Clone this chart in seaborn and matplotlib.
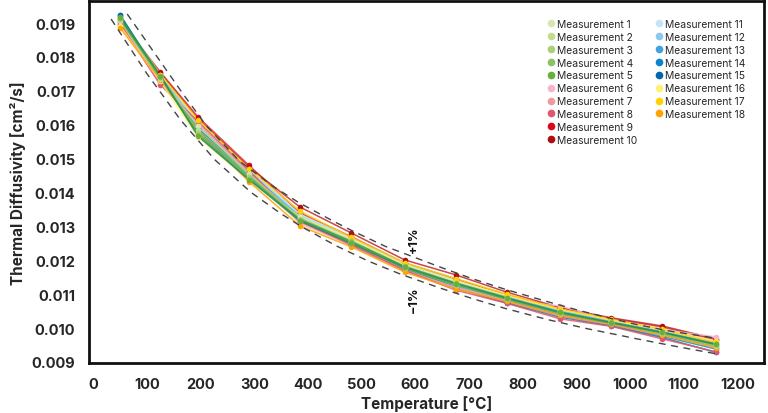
import numpy as np
import pandas as pd
import matplotlib
matplotlib.use("Agg")
import matplotlib.pyplot as plt
from matplotlib.lines import Line2D
from matplotlib.ticker import MultipleLocator, FormatStrFormatter
import seaborn as sns

# ---------------- data ----------------
temperature = [50, 125, 195, 290, 385, 480, 580, 675, 770, 870, 965, 1060, 1160]

m01 = [0.01905, 0.01738, 0.01595, 0.01455, 0.01325, 0.01258, 0.01180, 0.01130, 0.01088, 0.01045, 0.01016, 0.00985, 0.00950]
m02 = [0.01908, 0.01735, 0.01585, 0.01450, 0.01322, 0.01255, 0.01178, 0.01128, 0.01086, 0.01043, 0.01015, 0.00984, 0.00948]
m03 = [0.01912, 0.01740, 0.01575, 0.01445, 0.01318, 0.01252, 0.01176, 0.01126, 0.01085, 0.01044, 0.01014, 0.00986, 0.00951]
m04 = [0.01915, 0.01742, 0.01570, 0.01440, 0.01320, 0.01256, 0.01182, 0.01133, 0.01090, 0.01047, 0.01017, 0.00988, 0.00953]
m05 = [0.01918, 0.01745, 0.01566, 0.01438, 0.01316, 0.01250, 0.01179, 0.01131, 0.01088, 0.01046, 0.01016, 0.00987, 0.00952]
m06 = [0.01900, 0.01730, 0.01600, 0.01455, 0.01308, 0.01245, 0.01168, 0.01120, 0.01082, 0.01065, 0.01022, 0.00995, 0.00974]
m07 = [0.01895, 0.01722, 0.01605, 0.01460, 0.01312, 0.01248, 0.01172, 0.01118, 0.01078, 0.01035, 0.01010, 0.00978, 0.00945]
m08 = [0.01898, 0.01717, 0.01610, 0.01465, 0.01315, 0.01246, 0.01170, 0.01112, 0.01073, 0.01027, 0.01005, 0.00968, 0.00930]
m09 = [0.01908, 0.01755, 0.01623, 0.01480, 0.01340, 0.01270, 0.01192, 0.01145, 0.01098, 0.01058, 0.01028, 0.01003, 0.00965]
m10 = [0.01902, 0.01752, 0.01618, 0.01475, 0.01357, 0.01281, 0.01201, 0.01157, 0.01106, 0.01060, 0.01030, 0.01006, 0.00968]
m11 = [0.01920, 0.01748, 0.01605, 0.01468, 0.01335, 0.01265, 0.01190, 0.01140, 0.01095, 0.01052, 0.01022, 0.00992, 0.00960]
m12 = [0.01916, 0.01744, 0.01598, 0.01462, 0.01330, 0.01260, 0.01185, 0.01136, 0.01092, 0.01050, 0.01020, 0.00990, 0.00955]
m13 = [0.01922, 0.01740, 0.01590, 0.01458, 0.01326, 0.01254, 0.01180, 0.01128, 0.01082, 0.01040, 0.01012, 0.00982, 0.00945]
m14 = [0.01924, 0.01738, 0.01588, 0.01452, 0.01322, 0.01248, 0.01175, 0.01122, 0.01077, 0.01035, 0.01008, 0.00976, 0.00938]
m15 = [0.01923, 0.01736, 0.01582, 0.01448, 0.01318, 0.01244, 0.01172, 0.01118, 0.01074, 0.01032, 0.01006, 0.00972, 0.00928]
m16 = [0.01890, 0.01728, 0.01564, 0.01436, 0.01328, 0.01262, 0.01186, 0.01138, 0.01096, 0.01055, 0.01024, 0.00994, 0.00962]
m17 = [0.01912, 0.01748, 0.01615, 0.01470, 0.01345, 0.01268, 0.01193, 0.01146, 0.01100, 0.01056, 0.01026, 0.00996, 0.00958]
m18 = [0.01885, 0.01732, 0.01580, 0.01432, 0.01301, 0.01240, 0.01165, 0.01115, 0.01080, 0.01038, 0.01012, 0.00980, 0.00942]

series_names = [f"Measurement {i}" for i in range(1, 19)]

upper_T = [63, 167, 211, 272, 333, 383, 444, 481, 544, 606, 651, 707, 770, 850, 907, 970, 1013, 1074, 1160]
upper_v = [0.01927, 0.01691, 0.01596, 0.01493, 0.01420, 0.01370, 0.01318, 0.01288, 0.01241, 0.01204,
           0.01177, 0.01145, 0.01113, 0.01076, 0.01051, 0.01026, 0.01010, 0.00991, 0.00970]
lower_T = [33, 100, 137, 161, 226, 294, 350, 389, 452, 513, 574, 648, 704, 767, 846, 920, 970, 1013, 1081, 1160]
lower_v = [0.01912, 0.01750, 0.01670, 0.01617, 0.01497, 0.01400, 0.01337, 0.01298, 0.01243, 0.01197,
           0.01158, 0.01117, 0.01088, 0.01058, 0.01025, 0.00998, 0.00982, 0.00968, 0.00947, 0.00924]

marker_colors = ["#d6e6ae", "#c4dc8e", "#a9d07a", "#8cc262", "#68b03c",
                 "#f5b5cf", "#f0999f", "#e4546e", "#e0061c", "#ad0e12",
                 "#c3e5f8", "#8cc8ee", "#3ea3df", "#0a84d0", "#0065ae",
                 "#fff173", "#ffd300", "#ffa300"]
line_colors = ["#b5d68a", "#8cc46a", "#5fae55", "#3f9f52", "#2a9150",
               "#f5b5cf", "#f0999f", "#e4546e", "#e0303c", "#c0272a",
               "#a9dcf2", "#7cc0e6", "#2fa0c8", "#1a8fb0", "#12809a",
               "#fff173", "#ffd300", "#ffa300"]
draw_order = [8, 9, 10, 11, 12, 13, 14, 5, 6, 7, 15, 16, 17, 0, 1, 2, 3, 4]

all_series = [m01, m02, m03, m04, m05, m06, m07, m08, m09, m10,
              m11, m12, m13, m14, m15, m16, m17, m18]
df = pd.DataFrame({
    "Temperature": np.tile(temperature, len(all_series)),
    "Diffusivity": np.concatenate(all_series),
    "Series": np.repeat(series_names, len(temperature)),
})

# ---------------- style ----------------
sns.set_style("white")
plt.rcParams["font.family"] = ["Inter", "DejaVu Sans"]

fig = plt.figure(figsize=(7.68, 4.14), dpi=100)
ax = fig.add_axes([0.116, 0.121, 0.879, 0.874])

line_pal = dict(zip(series_names, line_colors))
mark_pal = dict(zip(series_names, marker_colors))
for i in draw_order:
    name = series_names[i]
    sub = df[df["Series"] == name]
    sns.lineplot(data=sub, x="Temperature", y="Diffusivity", color=line_pal[name],
                 linewidth=1.1, alpha=0.85, legend=False, ax=ax, sort=False)
for i in draw_order:
    name = series_names[i]
    sub = df[df["Series"] == name]
    sns.scatterplot(data=sub, x="Temperature", y="Diffusivity", color=mark_pal[name],
                    s=16, linewidth=0, legend=False, ax=ax, zorder=3)

ax.plot(upper_T, upper_v, ls=(0, (5, 4)), color="#444444", lw=1.0, zorder=4)
ax.plot(lower_T, lower_v, ls=(0, (5, 4)), color="#444444", lw=1.0, zorder=4)

ax.text(597, 0.01263, "+1%", rotation=90, ha="center", va="center",
        fontsize=9, fontweight="bold", color="#111111")
ax.text(597, 0.01086, "\u22121%", rotation=90, ha="center", va="center",
        fontsize=9, fontweight="bold", color="#111111")

ax.set_xlim(-8, 1250)
ax.set_ylim(0.00897, 0.01965)
ax.xaxis.set_major_locator(MultipleLocator(100))
ax.xaxis.set_minor_locator(MultipleLocator(20))
ax.yaxis.set_major_locator(MultipleLocator(0.001))
ax.yaxis.set_minor_locator(MultipleLocator(0.0002))
ax.yaxis.set_major_formatter(FormatStrFormatter("%.3f"))

ax.tick_params(which="major", direction="out", length=7, width=1.8, color="#111111",
               labelsize=10.5, pad=3)
ax.tick_params(which="minor", direction="out", length=4.5, width=1.5, color="#111111")
for lab in ax.get_xticklabels() + ax.get_yticklabels():
    lab.set_fontweight("bold")
for sp in ax.spines.values():
    sp.set_linewidth(2)
    sp.set_color("#111111")

ax.set_xlabel("Temperature [°C]", fontsize=11, fontweight="bold", labelpad=3)
ax.set_ylabel("Thermal Diffusivity [cm²/s]", fontsize=11, fontweight="bold", labelpad=4)

handles = [Line2D([0], [0], marker="o", ls="", color=c, markersize=4.5) for c in marker_colors]
labels = list(series_names)
handles.append(Line2D([0], [0], ls="", marker=""))
labels.append("")
ax.legend(handles, labels, ncol=2, loc="upper right", frameon=False,
          bbox_to_anchor=(0.978, 0.962), borderaxespad=0, borderpad=0.4,
          fontsize=7.4, handletextpad=0.0, columnspacing=1.5, labelspacing=0.28,
          handlelength=1.2)

fig.savefig("out.png", dpi=100)
